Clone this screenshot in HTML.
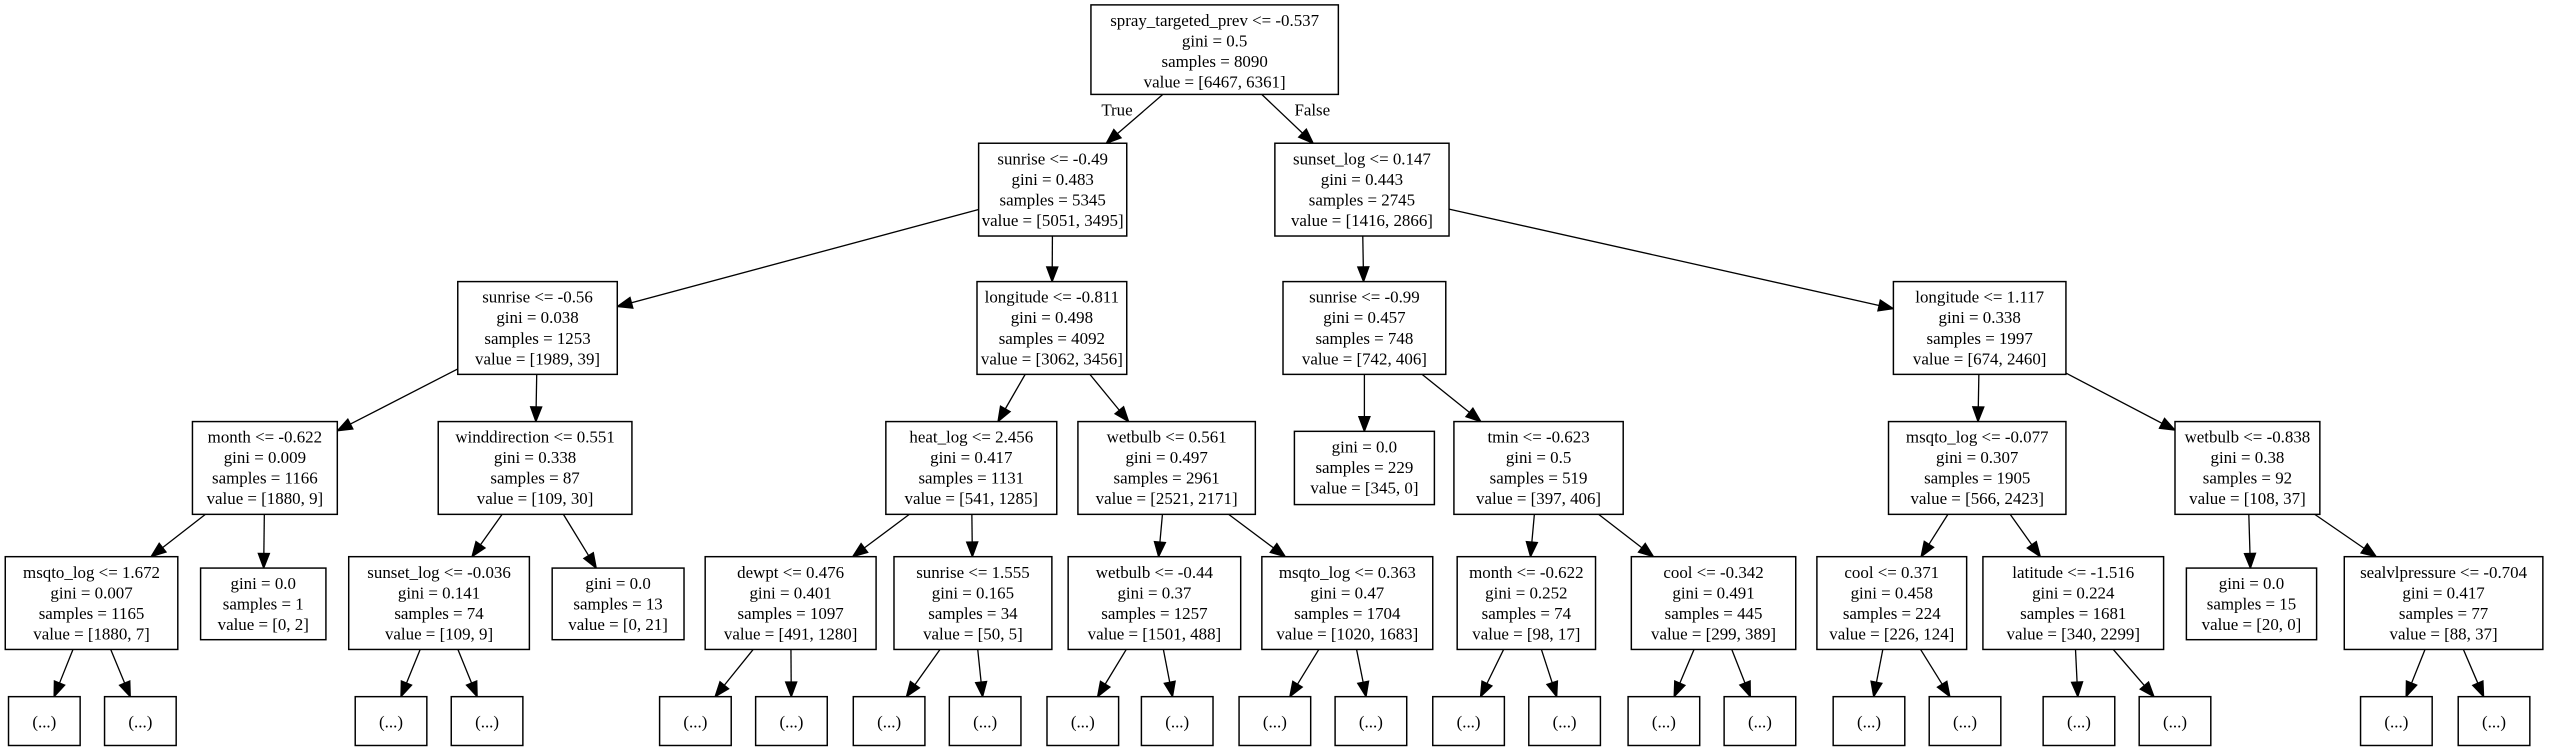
<!DOCTYPE html>
<html><head><meta charset="utf-8"><style>
html,body{margin:0;padding:0;background:#fff;}
svg{display:block;}
text{font-family:"Liberation Serif",serif;font-size:10.4px;fill:#000;}
</style></head><body>
<svg id="s" xmlns="http://www.w3.org/2000/svg" width="2553" height="752" viewBox="0 0 1568 462">
<rect width="1568" height="462" fill="#fff"/>
<text x="686" y="71" text-anchor="middle">True</text>
<text x="806" y="71" text-anchor="middle">False</text>
</svg>
<script>
var N={
r:[670,822,3,58,["spray_targeted_prev <= -0.537","gini = 0.5","samples = 8090","value = [6467, 6361]"]],
a:[601,692,88,145,["sunrise <= -0.49","gini = 0.483","samples = 5345","value = [5051, 3495]"]],
b:[783,890,88,145,["sunset_log <= 0.147","gini = 0.443","samples = 2745","value = [1416, 2866]"]],
a1:[281,379,173,230,["sunrise <= -0.56","gini = 0.038","samples = 1253","value = [1989, 39]"]],
a2:[600,692,173,230,["longitude <= -0.811","gini = 0.498","samples = 4092","value = [3062, 3456]"]],
b1:[788,888,173,230,["sunrise <= -0.99","gini = 0.457","samples = 748","value = [742, 406]"]],
b2:[1163,1269,173,230,["longitude <= 1.117","gini = 0.338","samples = 1997","value = [674, 2460]"]],
c1:[118,207,259,316,["month <= -0.622","gini = 0.009","samples = 1166","value = [1880, 9]"]],
c2:[269,388,259,316,["winddirection <= 0.551","gini = 0.338","samples = 87","value = [109, 30]"]],
c3:[544,649,259,316,["heat_log <= 2.456","gini = 0.417","samples = 1131","value = [541, 1285]"]],
c4:[662,771,259,316,["wetbulb <= 0.561","gini = 0.497","samples = 2961","value = [2521, 2171]"]],
c5:[795,881,265,310,["gini = 0.0","samples = 229","value = [345, 0]"]],
c6:[893,997,259,316,["tmin <= -0.623","gini = 0.5","samples = 519","value = [397, 406]"]],
c7:[1160,1269,259,316,["msqto_log <= -0.077","gini = 0.307","samples = 1905","value = [566, 2423]"]],
c8:[1336,1425,259,316,["wetbulb <= -0.838","gini = 0.38","samples = 92","value = [108, 37]"]],
d1:[3,109,342,399,["msqto_log <= 1.672","gini = 0.007","samples = 1165","value = [1880, 7]"]],
d2:[123,200,349,393,["gini = 0.0","samples = 1","value = [0, 2]"]],
d3:[214,325,342,399,["sunset_log <= -0.036","gini = 0.141","samples = 74","value = [109, 9]"]],
d4:[339,420,349,393,["gini = 0.0","samples = 13","value = [0, 21]"]],
d5:[433,538,342,399,["dewpt <= 0.476","gini = 0.401","samples = 1097","value = [491, 1280]"]],
d6:[549,646,342,399,["sunrise <= 1.555","gini = 0.165","samples = 34","value = [50, 5]"]],
d7:[656,762,342,399,["wetbulb <= -0.44","gini = 0.37","samples = 1257","value = [1501, 488]"]],
d8:[775,880,342,399,["msqto_log <= 0.363","gini = 0.47","samples = 1704","value = [1020, 1683]"]],
d9:[895,980,342,399,["month <= -0.622","gini = 0.252","samples = 74","value = [98, 17]"]],
d10:[1002,1103,342,399,["cool <= -0.342","gini = 0.491","samples = 445","value = [299, 389]"]],
d11:[1116,1208,342,399,["cool <= 0.371","gini = 0.458","samples = 224","value = [226, 124]"]],
d12:[1218,1329,342,399,["latitude <= -1.516","gini = 0.224","samples = 1681","value = [340, 2299]"]],
d13:[1343,1423,349,393,["gini = 0.0","samples = 15","value = [20, 0]"]],
d14:[1440,1562,342,399,["sealvlpressure <= -0.704","gini = 0.417","samples = 77","value = [88, 37]"]]
};
var E=[["r","a"],["r","b"],["a","a1"],["a","a2"],["b","b1"],["b","b2"],["a1","c1"],["a1","c2"],["a2","c3"],["a2","c4"],["b1","c5"],["b1","c6"],["b2","c7"],["b2","c8"],["c1","d1"],["c1","d2"],["c2","d3"],["c2","d4"],["c3","d5"],["c3","d6"],["c4","d7"],["c4","d8"],["c6","d9"],["c6","d10"],["c7","d11"],["c7","d12"],["c8","d13"],["c8","d14"]];
var L=[5,64,218,277,405,464,524,583,643,701,761,820,880,939,1000,1059,1126,1185,1255,1314,1450,1510];
var par=["d1","d1","d3","d3","d5","d5","d6","d6","d7","d7","d8","d8","d9","d9","d10","d10","d11","d11","d12","d12","d14","d14"];
L.forEach(function(x,i){var k="e"+i;N[k]=[x,x+44,428,458,["(...)"]];E.push([par[i],k]);});
var s=document.getElementById("s"),ns="http://www.w3.org/2000/svg";
function el(t,a,txt){var e=document.createElementNS(ns,t);for(var k in a)e.setAttribute(k,a[k]);if(txt)e.textContent=txt;s.appendChild(e);return e;}
function clip(n,dx,dy){var cx=(n[0]+n[1])/2,cy=(n[2]+n[3])/2,hw=(n[1]-n[0])/2,hh=(n[3]-n[2])/2;
var t=Math.min(dx?hw/Math.abs(dx):1e9,dy?hh/Math.abs(dy):1e9);return [cx+dx*t,cy+dy*t];}
E.forEach(function(e){var p=N[e[0]],c=N[e[1]];
var pc=[(p[0]+p[1])/2,(p[2]+p[3])/2],cc=[(c[0]+c[1])/2,(c[2]+c[3])/2];
var dx=cc[0]-pc[0],dy=cc[1]-pc[1];
var a=clip(p,dx,dy),b=clip(c,-dx,-dy);
var vx=b[0]-a[0],vy=b[1]-a[1],len=Math.sqrt(vx*vx+vy*vy);vx/=len;vy/=len;
var al=9,aw=3.4,bx=b[0]-vx*al,by=b[1]-vy*al;
el("line",{x1:a[0],y1:a[1],x2:bx,y2:by,stroke:"#000","stroke-width":0.8});
el("polygon",{points:b[0]+","+b[1]+" "+(bx-vy*aw)+","+(by+vx*aw)+" "+(bx+vy*aw)+","+(by-vx*aw),fill:"#000",stroke:"#000","stroke-width":0.8});
});
for(var k in N){var n=N[k];
el("rect",{x:n[0],y:n[2],width:n[1]-n[0],height:n[3]-n[2],fill:"#fff",stroke:"#000","stroke-width":0.9});
var cx=(n[0]+n[1])/2;
if(n[4].length==1){el("text",{x:cx,y:n[2]+19,"text-anchor":"middle"},n[4][0]);}
else n[4].forEach(function(t,i){el("text",{x:cx,y:n[2]+13+i*12.6,"text-anchor":"middle"},t);});
}
</script>
</body></html>
